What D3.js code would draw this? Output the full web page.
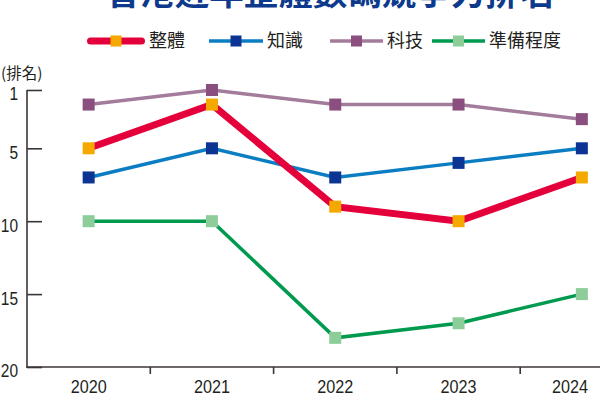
<!DOCTYPE html>
<html>
<head>
<meta charset="utf-8">
<script src="https://cdn.jsdelivr.net/npm/d3@7"></script>
<style>
  html, body { margin: 0; padding: 0; background: #fff; }
  svg { display: block; }
  .num { font-family: "Liberation Sans", Arial, sans-serif; }
  .cjk { font-family: "Noto Sans CJK TC", "Noto Sans CJK SC", sans-serif; }
</style>
</head>
<body>
<script>
// ---- data ----
const title = "香港近年整體數碼競爭力排名";
const yAxisLabel = "(排名)";
const years = ["2020", "2021", "2022", "2023", "2024"];
const seriesNames = ["整體", "知識", "科技", "準備程度"];
const overall = [5, 2, 9, 10, 7];
const knowledge = [7, 5, 7, 6, 5];
const technology = [2, 1, 2, 2, 3];
const readiness = [10, 10, 18, 17, 15];
const yTicks = [1, 5, 10, 15, 20];

// ---- styles ----
const styles = {
  "整體":   { line: "#e4003b", marker: "#f5a800", width: 7 },
  "知識":   { line: "#0b7dc2", marker: "#0c3492", width: 3.5 },
  "科技":   { line: "#a37b9b", marker: "#8a4f7e", width: 3.5 },
  "準備程度": { line: "#009a4f", marker: "#8dcd99", width: 3.5 }
};
const seriesValues = { "整體": overall, "知識": knowledge, "科技": technology, "準備程度": readiness };

const W = 600, H = 400;
const svg = d3.select("body").append("svg").attr("width", W).attr("height", H);

const x = d3.scaleBand().domain(years).range([27, 643.5]).paddingInner(0).paddingOuter(0);
const y = d3.scaleLinear().domain([0, 20]).range([75.4, 367]);
const axisColor = "#3b3536";
const textColor = "#231f20";
const digitW = 8.6; // condensed digit width

// title (cut off at top like reference)
svg.append("text").attr("class", "cjk")
  .attr("x", 330).attr("y", 5)
  .attr("text-anchor", "middle")
  .attr("font-size", 34.5).attr("font-weight", 700)
  .attr("fill", "#0d3a8c")
  .text(title);

// legend
const legendItems = [
  { name: "整體", x0: 87, len: 58 },
  { name: "知識", x0: 209, len: 54 },
  { name: "科技", x0: 330, len: 53 },
  { name: "準備程度", x0: 432, len: 53 }
];
const lg = svg.append("g");
legendItems.forEach(d => {
  const s = styles[d.name];
  const g = lg.append("g");
  const inset = d.name === "整體" ? 3.5 : 0;
  g.append("line")
    .attr("x1", d.x0 + inset).attr("x2", d.x0 + d.len - inset)
    .attr("y1", 41).attr("y2", 41)
    .attr("stroke", s.line).attr("stroke-width", s.width)
    .attr("stroke-linecap", d.name === "整體" ? "round" : "butt");
  g.append("rect")
    .attr("x", d.x0 + d.len / 2 - 5.5).attr("y", 35.5)
    .attr("width", 11).attr("height", 11)
    .attr("fill", s.marker);
  g.append("text").attr("class", "cjk")
    .attr("x", d.x0 + d.len + 4).attr("y", 41)
    .attr("dy", "0.36em")
    .attr("font-size", 18).attr("fill", textColor)
    .text(d.name);
});

// y label
svg.append("text").attr("class", "cjk")
  .attr("x", 1).attr("y", 73).attr("dy", "0.36em")
  .attr("font-size", 15.5).attr("fill", textColor)
  .text(yAxisLabel);

// y axis
const yAxis = d3.axisLeft(y).tickValues(yTicks).tickSizeInner(-15).tickSizeOuter(0).tickPadding(9);
const gy = svg.append("g").attr("transform", "translate(27,0)").call(yAxis);
gy.select(".domain").remove();
gy.selectAll(".tick line").attr("stroke", axisColor).attr("stroke-width", 1.6);
gy.selectAll(".tick text")
  .attr("class", "num").attr("font-size", 18).attr("fill", textColor).attr("dy", "0.55em")
  .attr("font-family", "'Liberation Sans', Arial, sans-serif")
  .attr("textLength", d => String(d).length * digitW)
  .attr("lengthAdjust", "spacingAndGlyphs");
svg.append("line")
  .attr("x1", 27).attr("x2", 27)
  .attr("y1", y(yTicks[0])).attr("y2", y(20) + 0.8)
  .attr("stroke", axisColor).attr("stroke-width", 1.6);

// x axis
const baseY = y(20);
svg.append("line")
  .attr("x1", 26.2).attr("x2", W)
  .attr("y1", baseY).attr("y2", baseY)
  .attr("stroke", axisColor).attr("stroke-width", 1.6);
svg.append("g").selectAll("line").data(years.slice(1)).join("line")
  .attr("x1", d => x(d)).attr("x2", d => x(d))
  .attr("y1", baseY).attr("y2", baseY + 7)
  .attr("stroke", axisColor).attr("stroke-width", 1.6);
const yearW = 36;
svg.append("g").selectAll("text").data(years).join("text")
  .attr("class", "num")
  .attr("x", d => Math.min(x(d) + x.bandwidth() / 2, W - yearW / 2 - 12))
  .attr("y", 393)
  .attr("text-anchor", "middle")
  .attr("font-size", 18).attr("fill", textColor)
  .attr("textLength", yearW)
  .attr("lengthAdjust", "spacingAndGlyphs")
  .text(d => d);

// series
const line = d3.line().x((v, i) => x(years[i]) + x.bandwidth() / 2).y(v => y(v));
const drawOrder = ["準備程度", "科技", "知識", "整體"];
drawOrder.forEach(name => {
  const s = styles[name];
  const vals = seriesValues[name];
  const g = svg.append("g");
  g.append("path").datum(vals)
    .attr("d", line)
    .attr("fill", "none")
    .attr("stroke", s.line)
    .attr("stroke-width", s.width)
    .attr("stroke-linejoin", "miter");
  g.selectAll("rect").data(vals).join("rect")
    .attr("x", (v, i) => x(years[i]) + x.bandwidth() / 2 - 6)
    .attr("y", v => y(v) - 6)
    .attr("width", 12).attr("height", 12)
    .attr("fill", s.marker);
});
</script>
</body>
</html>
